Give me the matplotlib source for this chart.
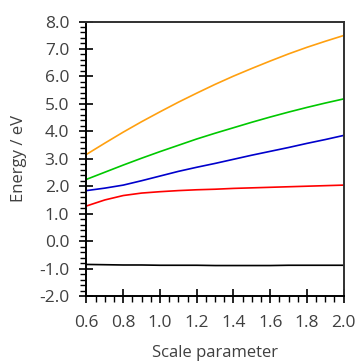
"""Energia de estados frente al parametro de escala."""
import matplotlib

matplotlib.use("Agg")

import matplotlib.pyplot as plt
from matplotlib.ticker import MultipleLocator, FormatStrFormatter

plt.rcParams["font.family"] = ["Open Sans", "DejaVu Sans"]

# datos
scale = [0.6, 0.7, 0.8, 0.9, 1.0, 1.1, 1.2, 1.3, 1.4, 1.5, 1.6, 1.7, 1.8, 1.9, 2.0]
e_black = [-0.85, -0.86, -0.87, -0.87, -0.88, -0.88, -0.88, -0.89, -0.89,
           -0.89, -0.89, -0.88, -0.88, -0.88, -0.88]
e_red = [1.28, 1.50, 1.66, 1.75, 1.80, 1.84, 1.87, 1.89, 1.92, 1.94, 1.96,
         1.98, 2.00, 2.02, 2.04]
e_blue = [1.84, 1.93, 2.04, 2.20, 2.37, 2.54, 2.69, 2.83, 2.98, 3.13, 3.27,
          3.41, 3.56, 3.70, 3.85]
e_green = [2.25, 2.51, 2.77, 3.02, 3.26, 3.49, 3.72, 3.93, 4.13, 4.33, 4.52,
           4.70, 4.87, 5.03, 5.18]
e_orange = [3.16, 3.57, 3.97, 4.35, 4.71, 5.06, 5.39, 5.71, 6.01, 6.29, 6.56,
            6.82, 7.06, 7.28, 7.49]

series = [
    (e_black, "black"),
    (e_red, "#ff0000"),
    (e_blue, "#0000cc"),
    (e_green, "#00c800"),
    (e_orange, "#ffa010"),
]

txt = "#404040"

fig = plt.figure(figsize=(3.58, 3.62), dpi=100)
ax = fig.add_axes([0.2416, 0.1823, 0.7184, 0.7583])

for ys, c in series:
    ax.plot(scale, ys, color=c, lw=1.2)

ax.set_xlim(0.6, 2.0)
ax.set_ylim(-2.0, 8.0)
ax.xaxis.set_major_locator(MultipleLocator(0.2))
ax.xaxis.set_minor_locator(MultipleLocator(0.05))
ax.yaxis.set_major_locator(MultipleLocator(1.0))
ax.yaxis.set_minor_locator(MultipleLocator(0.2))
ax.xaxis.set_major_formatter(FormatStrFormatter("%.1f"))
ax.yaxis.set_major_formatter(FormatStrFormatter("%.1f"))

ax.tick_params(which="major", direction="inout", length=10, width=1.2,
               labelsize=12.5, labelcolor=txt)
ax.tick_params(which="minor", direction="out", length=4, width=1.0)
ax.tick_params(axis="y", which="major", pad=7.5)
ax.tick_params(axis="x", which="major", pad=9)

for side in ("left", "bottom"):
    ax.spines[side].set_color("black")
    ax.spines[side].set_linewidth(1.4)
for side in ("top", "right"):
    ax.spines[side].set_color("#303030")
    ax.spines[side].set_linewidth(1.4)

ax.set_xlabel("Scale parameter", fontsize=12, color=txt)
ax.set_ylabel("Energy / eV", fontsize=12, color=txt)
ax.xaxis.set_label_coords(0.5, -0.178)
ax.yaxis.set_label_coords(-0.23, 0.5)

fig.savefig("out.png", dpi=100)
plt.close(fig)
